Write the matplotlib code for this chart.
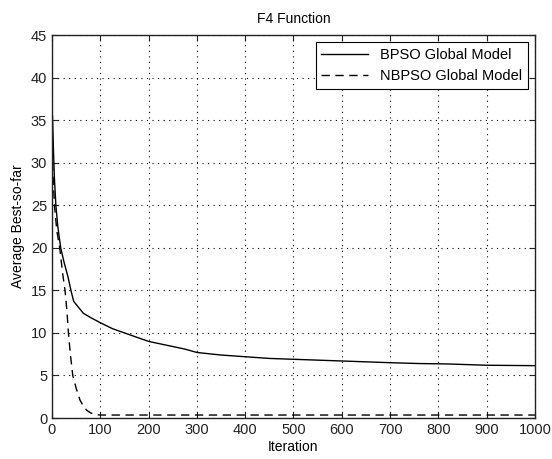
import matplotlib
matplotlib.use("Agg")
import matplotlib.pyplot as plt

plt.rcParams['font.family'] = ['Liberation Sans', 'DejaVu Sans']

# BPSO global model (solid)
bpso_x = [1, 3, 5, 8, 12, 18, 25, 33, 40, 45, 55, 65, 80, 100, 125, 150, 175, 200,
          225, 250, 275, 300, 350, 400, 450, 500, 550, 600, 650, 700, 760, 820, 900, 1000]
bpso_y = [35.5, 31.5, 28.2, 25.0, 22.5, 20.0, 18.3, 16.6, 14.8, 13.7, 13.0, 12.3, 11.8, 11.2,
          10.5, 10.0, 9.5, 9.0, 8.7, 8.4, 8.1, 7.7, 7.4, 7.2, 7.0, 6.9, 6.8, 6.7, 6.6, 6.5,
          6.4, 6.35, 6.2, 6.15]

# NBPSO global model (dashed)
nbpso_x = [1, 5, 10, 16, 22, 27, 31, 34, 38, 43, 50, 58, 65, 72, 80, 90, 100, 200, 400, 600, 800, 1000]
nbpso_y = [30.0, 25.0, 22.0, 20.0, 17.0, 15.0, 12.5, 10.0, 7.5, 5.0, 3.5, 2.1, 1.4, 0.9, 0.6, 0.4,
           0.35, 0.35, 0.35, 0.35, 0.35, 0.35]

fig = plt.figure(figsize=(5.52, 4.59), dpi=100)
ax = fig.add_axes([0.0942, 0.0893, 0.875, 0.8344])

ax.plot(bpso_x, bpso_y, '-', color='black', lw=1.0, label='BPSO Global Model')
ax.plot(nbpso_x, nbpso_y, '--', color='black', lw=1.0, dashes=(6, 4), label='NBPSO Global Model')

ax.set_xlim(0, 1000)
ax.set_ylim(0, 45)
ax.set_xticks(range(0, 1001, 100))
ax.set_yticks(range(0, 46, 5))
ax.grid(True, color='black', linestyle=(0, (1, 4)), linewidth=0.8)
ax.tick_params(direction='in', top=True, right=True, labelsize=10.5, length=4, colors='#222222')
for s in ax.spines.values():
    s.set_linewidth(1.0)
    s.set_color('#222222')

ax.set_title('F4 Function', fontsize=10, pad=9)
ax.set_xlabel('Iteration', fontsize=10, labelpad=2)
ax.set_ylabel('Average Best-so-far', fontsize=10)

leg = ax.legend(loc='upper right', fontsize=10.5, fancybox=False, framealpha=1,
                edgecolor='black', borderaxespad=0.5, handlelength=3.2)
leg.get_frame().set_linewidth(0.8)

fig.savefig('out.png', dpi=100)
